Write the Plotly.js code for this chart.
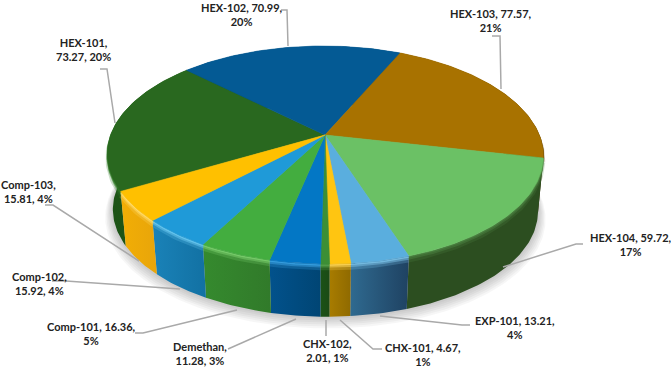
<!DOCTYPE html>
<html>
<head>
<meta charset="utf-8">
<script src="https://cdn.plot.ly/plotly-3.0.1.min.js"></script>
<style>html,body{margin:0;padding:0;background:#fff}#chart{width:671px;height:368px}</style>
</head>
<body>
<div id="chart"></div>
<script>
// ---- chart values
var names = ['HEX-101','HEX-102','HEX-103','HEX-104','EXP-101','CHX-101','CHX-102','Demethan','Comp-101','Comp-102','Comp-103'];
var values = [73.27,70.99,77.57,59.72,13.21,4.67,2.01,11.28,16.36,15.92,15.81];
// ---- styling
var topColors  = ['#29681f','#045a94','#a87200','#6bc165','#5aaede','#ffc511','#3c8f35','#0377c5','#43ad3f','#1f9ad8','#ffc000'];
var wallLeft   = ['#1c5216','#03416b','#6b4a00','#2c4e20','#2f6a90','#a87c00','#1b5216','#02528c','#358a2e','#1a82b8','#f2ae05'];
var wallRight  = ['#1d5c17','#03416b','#3a2a00','#2c4e20','#1f4262','#8f6a00','#1b4a16','#004574','#317a2a','#1271a3','#e8a50a'];
var rimColors  = ['#2f7a26','#045a94','#5e4000','#4a8040','#79c0e6','#ffd75a','#5bab50','#3aa2e4','#7bd06e','#69c8f0','#ffdc6a'];
// label text line breaks (after which comma-separated part)
var breaks = [1,2,2,2,2,2,1,1,2,1,1];
var labelX = [83,242,491,631,515,423,327,200,91,39,28];
var labelY = [49.5,14,20.5,244,327,354,350,353,333.5,283.5,191.5];
var leaders = [
  [[100,69],[107,69],[115,123]],
  [[281,10],[287,10],[288,46]],
  [[492,36],[500,36],[501,89]],
  [[583,244],[576,244],[503,267]],
  [[470,325],[462,325],[380,316]],
  [[382,349],[373,349],[340,320]],
  [[326,336],[326,320]],
  [[228,349],[296,319]],
  [[135,333],[143,333],[237,310]],
  [[52,281],[66,281],[180,289]],
  [[45,205],[53,205],[139,261]]
];
// ---- projection of the tilted disc
var firstAngle = 240.8, apexX = 325, apexY = 135, A = 214.3, B = 105.3, P = 0.1834, SHEAR = 0.02;
var DY = 56, S = 0.975;
function proj(deg, s, dy, grow){
  var t = deg*Math.PI/180, u = Math.sin(t), v = Math.cos(t), w = 1+P*v;
  var x = A*u/w*s*(grow||1), y = -B*v/w*s*(grow||1);
  return [apexX + x + SHEAR*y, apexY + y + dy];
}
function arc(a0,a1,s,dy,grow){
  var pts=[], n=Math.max(2,Math.ceil(Math.abs(a1-a0)));
  for(var i=0;i<=n;i++){ pts.push(proj(a0+(a1-a0)*i/n,s,dy,grow)); }
  return pts;
}
var traces=[];
function poly(pts,color,extra){
  var tr={type:'scatter',mode:'lines',x:pts.map(function(p){return p[0]}),y:pts.map(function(p){return p[1]}),
    fill:'toself',fillcolor:color,line:{color:color,width:0.6,shape:'linear'},hoverinfo:'skip',showlegend:false};
  if(extra){ for(var k in extra){ tr[k]=extra[k]; } }
  traces.push(tr);
}
function line(pts,color,width,opacity){
  traces.push({type:'scatter',mode:'lines',x:pts.map(function(p){return p[0]}),y:pts.map(function(p){return p[1]}),
    line:{color:color,width:width},opacity:opacity||1,hoverinfo:'skip',showlegend:false});
}
// soft shadow below the disc
for(var i=6;i>=1;i--){
  poly(arc(0,360,S,DY+i*1.2,1+i*0.006),'rgba(0,0,0,0.035)',{line:{width:0}});
}
// slice angles
var total = values.reduce(function(a,b){return a+b},0), starts=[], a=firstAngle;
values.forEach(function(v){ starts.push(a); a+=v/total*360; });
// walls
values.forEach(function(v,i){
  var a0=starts[i], a1=a0+v/total*360;
  var pts=arc(a0,a1,1,0).concat(arc(a1,a0,S,DY));
  pts.push(pts[0]);
  poly(pts,wallLeft[i],{fillgradient:{type:'horizontal',colorscale:[[0,wallLeft[i]],[1,wallRight[i]]]},line:{width:0}});
});
// rim highlights (soft band under the top face)
values.forEach(function(v,i){
  var a0=starts[i], a1=a0+v/total*360;
  line(arc(a0,a1,0.995,4),rimColors[i],6,0.25);
  line(arc(a0,a1,0.997,2.5),rimColors[i],3,0.5);
  line(arc(a0,a1,1,1),rimColors[i],1.5,0.8);
});
// top faces
values.forEach(function(v,i){
  var a0=starts[i], a1=a0+v/total*360;
  var pts=[[apexX,apexY]].concat(arc(a0,a1,1,0));
  pts.push([apexX,apexY]);
  poly(pts,topColors[i]);
});
// leader lines
leaders.forEach(function(l){ line(l,'#a9a9a9',1.5); });
// labels
var labelFont = {family:'Lato, "Open Sans", sans-serif',size:11,color:'#222222',weight:700};
var annotations = names.map(function(n,i){
  var pct = Math.round(values[i]/total*100)+'%';
  var parts = [n+',', values[i]+',', pct];
  var txt = parts.slice(0,breaks[i]).join(' ')+'<br>'+parts.slice(breaks[i]).join(' ');
  return {x:labelX[i],y:labelY[i],xref:'x',yref:'y',text:txt,showarrow:false,xanchor:'center',yanchor:'middle',align:'center',font:labelFont};
});
var layout = {
  width:671,height:368,margin:{l:0,r:0,t:0,b:0},paper_bgcolor:'#fff',plot_bgcolor:'#fff',showlegend:false,
  xaxis:{range:[0,671],visible:false,fixedrange:true},
  yaxis:{range:[368,0],visible:false,fixedrange:true},
  annotations:annotations
};
Plotly.newPlot('chart',traces,layout,{displayModeBar:false,staticPlot:true});
</script>
</body>
</html>
